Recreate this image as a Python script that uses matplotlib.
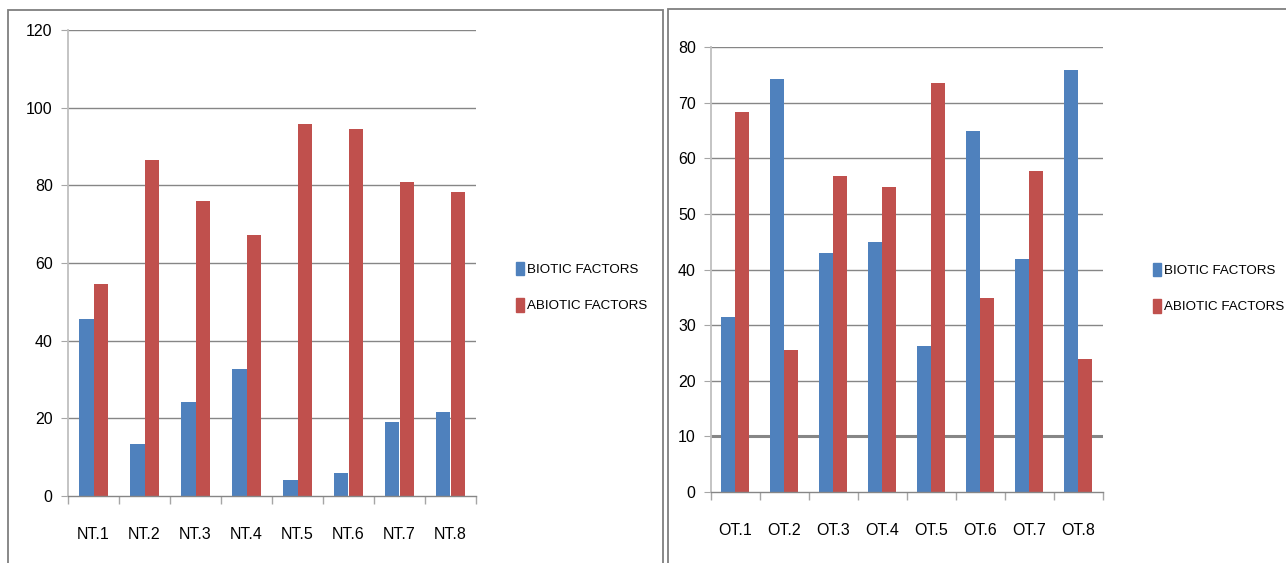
import matplotlib
matplotlib.use("Agg")
import matplotlib.pyplot as plt
import numpy as np
from matplotlib.patches import Rectangle, Patch
from matplotlib.ticker import FixedLocator

plt.rcParams['font.family'] = ['Liberation Sans', 'DejaVu Sans']

nt_labels = ["NT.1", "NT.2", "NT.3", "NT.4", "NT.5", "NT.6", "NT.7", "NT.8"]
nt_biotic = [45.5, 13.4, 24.2, 32.8, 4.2, 6.0, 19.1, 21.6]
nt_abiotic = [54.6, 86.6, 75.9, 67.1, 95.9, 94.4, 80.9, 78.4]

ot_labels = ["OT.1", "OT.2", "OT.3", "OT.4", "OT.5", "OT.6", "OT.7", "OT.8"]
ot_biotic = [31.5, 74.3, 43.0, 45.0, 26.3, 64.9, 41.9, 75.9]
ot_abiotic = [68.3, 25.5, 56.8, 54.8, 73.5, 34.9, 57.7, 23.9]

series_names = ["BIOTIC FACTORS", "ABIOTIC FACTORS"]
blue = "#4F81BD"
red = "#C0504D"

W, H = 1286, 563
fig = plt.figure(figsize=(W / 100, H / 100), dpi=100)
fig.patch.set_facecolor("white")

def px_axes(x0, x1, ytop, ybot):
    return fig.add_axes([x0 / W, 1 - ybot / H, (x1 - x0) / W, (ybot - ytop) / H])

# panel borders
for (x0, x1, y0) in [(8, 663, 10), (668, 1300, 9)]:
    fig.patches.append(Rectangle((x0 / W, -0.1), (x1 - x0) / W, 1 - y0 / H + 0.1,
                                 transform=fig.transFigure, fill=False,
                                 edgecolor="#7F7F7F", linewidth=1.3))

def draw(ax, labels, b, a, ymax, step, thick=None):
    n = len(labels)
    x = np.arange(n)
    w = 1 / 3.5
    ax.bar(x - w / 2, b, width=w, color=blue, zorder=3)
    ax.bar(x + w / 2, a, width=w, color=red, zorder=3)
    ax.set_xlim(-0.5, n - 0.5)
    ax.set_ylim(0, ymax)
    ticks = np.arange(0, ymax + 0.1, step)
    ax.set_yticks(ticks)
    ax.set_yticklabels([f"{int(t)}" for t in ticks])
    for t in ticks[1:]:
        lw = 2.2 if (thick is not None and t == thick) else 1.0
        ax.axhline(t, color="#868686", linewidth=lw, zorder=1)
    ax.set_xticks(x)
    ax.set_xticklabels(labels)
    ax.xaxis.set_minor_locator(FixedLocator(np.arange(-0.5, n, 1.0)))
    ax.tick_params(axis="x", which="major", length=0, pad=22, labelsize=11.5)
    ax.tick_params(axis="x", which="minor", length=6, color="#A6A6A6", width=1)
    ax.tick_params(axis="y", length=5, color="#A6A6A6", pad=6, labelsize=11.5)
    for s in ["top", "right"]:
        ax.spines[s].set_visible(False)
    ax.spines["left"].set_color("#BFBFBF")
    ax.spines["left"].set_linewidth(1.3)
    ax.spines["bottom"].set_color("#868686")
    ax.spines["bottom"].set_linewidth(1.0)
    ax.spines["bottom"].set_zorder(4)

ax1 = px_axes(68, 476, 30, 496)
draw(ax1, nt_labels, nt_biotic, nt_abiotic, 120, 20)
ax2 = px_axes(711, 1103, 47, 492)
draw(ax2, ot_labels, ot_biotic, ot_abiotic, 80, 10, thick=10)

handles = [Patch(color=blue, label=series_names[0]), Patch(color=red, label=series_names[1])]
for (lx, ly) in [(509, 287), (1146, 288)]:
    fig.legend(handles=handles, loc="center left", bbox_to_anchor=(lx / W, 1 - ly / H),
               frameon=False, fontsize=9.6, handlelength=0.6, handleheight=1.15,
               handletextpad=0.25, labelspacing=1.7, borderpad=0)

fig.savefig("out.png", dpi=100, facecolor="white")
